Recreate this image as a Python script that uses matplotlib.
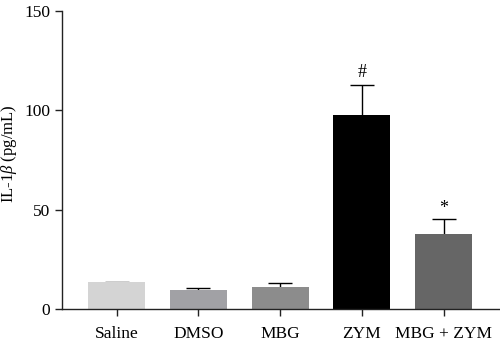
import matplotlib
matplotlib.use("Agg")
import matplotlib.pyplot as plt

groups = ["Saline", "DMSO", "MBG", "ZYM", "MBG + ZYM"]
means = [13.4, 9.4, 10.9, 97.6, 37.6]
errs = [0.4, 1.3, 2.3, 15.1, 7.8]
colors = ["#d4d4d4", "#a1a1a5", "#8c8c8c", "#000000", "#666666"]
marks = ["", "", "", "#", "*"]
mark_y = [None, None, None, 115, 46.5]

plt.rcParams["font.family"] = ["Liberation Serif", "DejaVu Serif"]
plt.rcParams["mathtext.fontset"] = "custom"
plt.rcParams["mathtext.rm"] = "Liberation Serif"
plt.rcParams["mathtext.it"] = "Liberation Serif:style=italic"

fig = plt.figure(figsize=(5.0, 3.45), dpi=100)
ax = fig.add_axes([0.124, 0.104, 0.876, 0.864])

x = list(range(len(groups)))
# symmetric bars drawn behind the columns, so only the upper half shows
ax.errorbar(x, means, yerr=errs, fmt="none", ecolor="black",
            elinewidth=1.0, capsize=8.6, capthick=1.0, zorder=1)
ax.bar(x, means, width=0.7, color=colors, zorder=2)
for xi, m, my in zip(x, marks, mark_y):
    if m:
        ax.text(xi, my, m, ha="center", va="bottom", fontsize=13)

ax.set_xlim(-0.67, 4.69)
ax.set_ylim(0, 150)
ax.set_yticks([0, 50, 100, 150])
ax.set_xticks(x)
ax.set_xticklabels(groups)
ax.set_ylabel(r"IL-1$\mathit{\beta}$ (pg/mL)", fontsize=12, va="center")
ax.yaxis.set_label_coords(-0.12, 0.52)
ax.spines["top"].set_visible(False)
ax.spines["right"].set_visible(False)
for s in ("left", "bottom"):
    ax.spines[s].set_linewidth(1.0)
    ax.spines[s].set_color("#222222")
ax.tick_params(axis="both", length=5, width=1.0, color="#222222", labelsize=12.5)
ax.tick_params(axis="x", pad=7)

fig.savefig("out.png", dpi=100)
